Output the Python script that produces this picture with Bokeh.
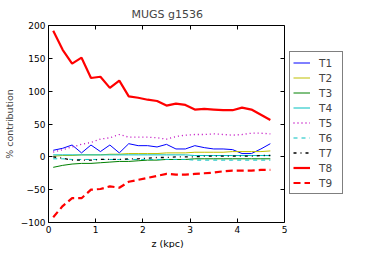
from bokeh.plotting import figure
from bokeh.models import Range1d, FixedTicker, LinearAxis, Legend, LegendItem, Title
from bokeh.embed import file_html
from bokeh.resources import INLINE

z = [0.1, 0.3, 0.5, 0.7, 0.9, 1.1, 1.3, 1.5, 1.7, 1.9, 2.1, 2.3,
     2.5, 2.7, 2.9, 3.1, 3.3, 3.5, 3.7, 3.9, 4.1, 4.3, 4.5, 4.7]
t1 = [10, 13, 18, 6, 18, 8, 18, 6, 20, 17, 17, 15,
      19, 12, 12, 17, 14, 12, 12, 11, 5, 5, 12, 20]
t2 = [1, 2, 2, 3, 3, 3, 4, 4, 5, 5, 5, 5,
      6, 6, 6, 7, 7, 7, 7, 8, 8, 8, 8, 9]
t3 = [-16, -13, -11, -10, -10, -9, -8, -7, -7, -6, -5, -5,
      -4, -4, -4, -3, -3, -3, -3, -3, -3, -3, -3, -3]
t4 = [3, 3, 3, 3, 3, 3, 3, 3, 3, 3, 3, 3,
      3, 3, 3, 2, 2, 2, 2, 2, 2, 2, 2, 2]
t5 = [7, 11, 15, 19, 22, 27, 29, 34, 30, 30, 30, 29,
      27, 31, 33, 34, 34, 35, 34, 33, 34, 36, 36, 35]
t6 = [-3, -3, -4, -4, -4, -4, -4, -4, -4, -4, -4, -4,
      -4, -4, -4, -5, -5, -5, -5, -5, -5, -5, -5, -5]
t7 = [0, -2, -5, -5, -5, -4, -4, -4, -3, -3, -2, -1,
      -1, 0, 0, 0, 1, 1, 1, 1, 1, 1, 2, 2]
t8 = [192, 163, 142, 151, 120, 122, 105, 116, 92, 90, 87, 85,
      78, 81, 79, 72, 73, 72, 71, 71, 75, 72, 64, 56]
t9 = [-92, -75, -63, -63, -50, -49, -45, -47, -38, -35, -32, -29,
      -26, -27, -27, -26, -25, -24, -22, -21, -21, -21, -20, -20]

series_names = ["T1", "T2", "T3", "T4", "T5", "T6", "T7", "T8", "T9"]
series_values = [t1, t2, t3, t4, t5, t6, t7, t8, t9]
x_ticks = [0, 1, 2, 3, 4, 5]
y_ticks = [-100, -50, 0, 50, 100, 150, 200]
X_MIN, X_MAX = 0, 5
Y_MIN, Y_MAX = -100, 200

styles = [
    dict(color="#0000ff", width=1, dash="solid"),
    dict(color="#bfbf00", width=1, dash="solid"),
    dict(color="#008000", width=1, dash="solid"),
    dict(color="#00bfbf", width=1, dash="solid"),
    dict(color="#bf00bf", width=1.3, dash="1 3"),
    dict(color="#00bfbf", width=1, dash="4 4"),
    dict(color="#000000", width=1.3, dash="3 4 1 4"),
    dict(color="#ff0000", width=2.2, dash="solid"),
    dict(color="#ff0000", width=2.2, dash="7 4"),
]

FONT = "DejaVu Sans"

AX_W = 236          # pixel width of the axes box
FRAME_W = 298       # frame also holds the legend to its right
x_end = X_MAX * FRAME_W / AX_W

p = figure(frame_width=FRAME_W, frame_height=197,
           x_range=Range1d(X_MIN, x_end), y_range=Range1d(Y_MIN, Y_MAX),
           output_backend="svg", toolbar_location=None,
           title="MUGS g1536",
           min_border_left=40, min_border_top=25, min_border_bottom=24,
           min_border_right=0)
p.background_fill_color = "white"
p.border_fill_color = "white"
p.outline_line_color = None
p.grid.visible = False

p.title.align = "left"
p.title.offset = 83
p.title.text_font = FONT
p.title.text_font_size = "11px"
p.title.text_font_style = "normal"
p.title.standoff = 9

def style_axis(ax, show_labels):
    ax.major_tick_in = 4
    ax.major_tick_out = 0
    ax.minor_tick_in = 0
    ax.minor_tick_out = 0
    ax.axis_line_color = "black"
    ax.major_tick_line_color = "black"
    ax.major_label_text_font = FONT
    ax.major_label_text_color = "black"
    ax.major_label_text_font_size = "9px"
    ax.major_label_standoff = 3 if show_labels else 0

p.xaxis.ticker = FixedTicker(ticks=x_ticks)
p.xaxis.bounds = (X_MIN, X_MAX)
p.yaxis.ticker = FixedTicker(ticks=y_ticks)
p.yaxis.major_label_overrides = {v: str(v).replace("-", "\u2212") for v in y_ticks}
for ax in p.xaxis:
    style_axis(ax, True)
for ax in p.yaxis:
    style_axis(ax, True)
p.yaxis.axis_label = "% contribution"
p.yaxis.axis_label_text_font = FONT
p.yaxis.axis_label_text_font_size = "9.5px"
p.yaxis.axis_label_text_font_style = "normal"
p.yaxis.axis_label_standoff = 3

xlabel = Title(text="z (kpc)", align="left", offset=103, standoff=0,
               text_font=FONT, text_font_size="9.5px",
               text_font_style="normal", text_color="black")
p.add_layout(xlabel, "below")

top = LinearAxis(ticker=FixedTicker(ticks=x_ticks), bounds=(X_MIN, X_MAX),
                 major_label_overrides={v: "" for v in x_ticks})
style_axis(top, False)
p.add_layout(top, "above")
right = LinearAxis(ticker=FixedTicker(ticks=y_ticks), fixed_location=X_MAX,
                   major_label_overrides={v: "" for v in y_ticks})
style_axis(right, False)
p.add_layout(right, "right")

items = []
for name, vals, st in zip(series_names, series_values, styles):
    r = p.line(z, vals, line_color=st["color"], line_width=st["width"],
               line_dash=st["dash"])
    items.append(LegendItem(label=name, renderers=[r]))

legend = Legend(items=items, location=(AX_W + 5, 28))
legend.margin = 0
legend.padding = 3
legend.spacing = 0
legend.glyph_width = 17
legend.glyph_height = 15
legend.label_height = 15
legend.label_standoff = 9
legend.label_text_font = FONT
legend.label_text_font_size = "10.5px"
legend.border_line_color = "black"
legend.border_line_width = 1
legend.background_fill_color = "white"
p.add_layout(legend, "center")

open("out.html", "w").write(file_html(p, INLINE))
